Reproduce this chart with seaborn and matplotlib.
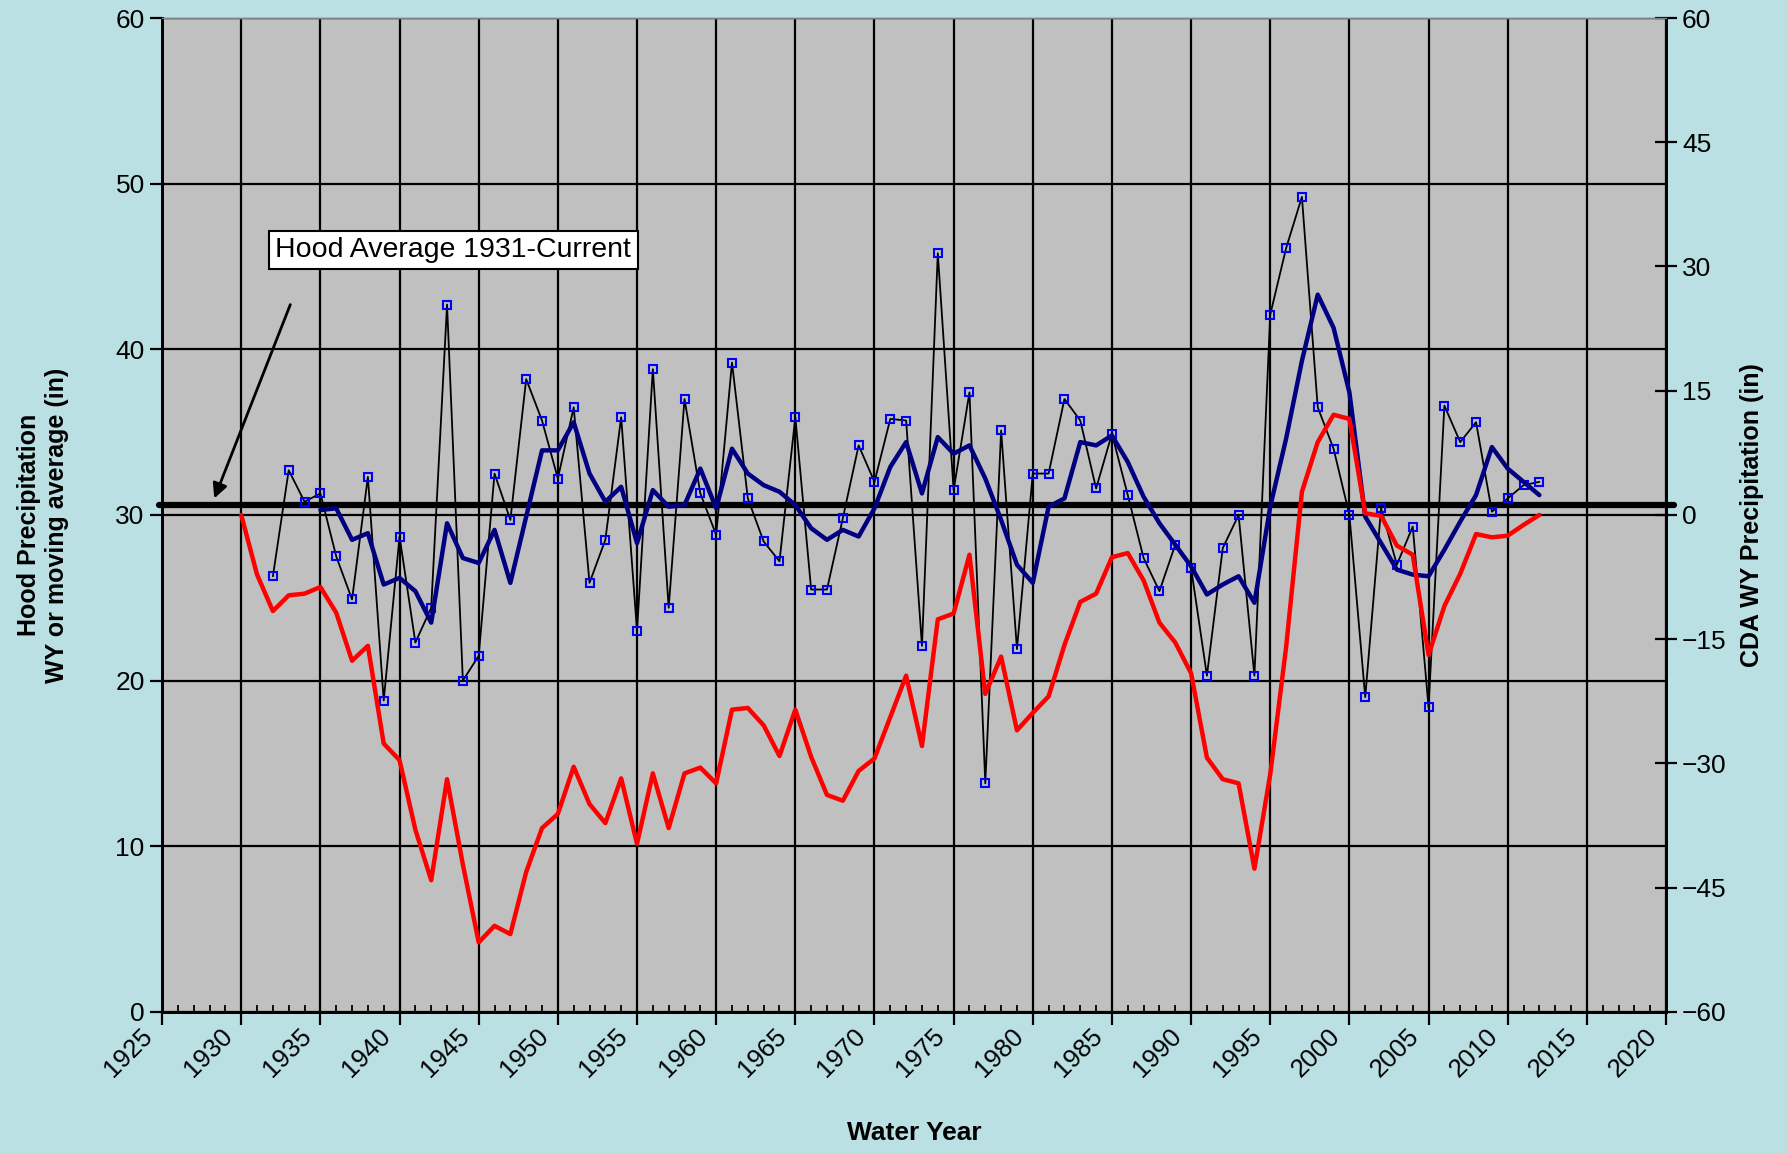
import matplotlib
matplotlib.use("Agg")
import matplotlib.pyplot as plt
from matplotlib.ticker import MultipleLocator
from matplotlib.transforms import ScaledTranslation
import seaborn as sns

# Hood water-year precipitation (in)
years_wy = list(range(1932, 2013))
hood_wy = [26.3, 32.7, 30.8, 31.3, 27.5, 24.9, 32.3, 18.8, 28.7, 22.3,
           24.4, 42.7, 20.0, 21.5, 32.5, 29.7, 38.2, 35.7, 32.2, 36.5,
           25.9, 28.5, 35.9, 23.0, 38.8, 24.4, 37.0, 31.3, 28.8, 39.2,
           31.0, 28.4, 27.2, 35.9, 25.5, 25.5, 29.8, 34.2, 32.0, 35.8,
           35.7, 22.1, 45.8, 31.5, 37.4, 13.8, 35.1, 21.9, 32.5, 32.5,
           37.0, 35.7, 31.6, 34.9, 31.2, 27.4, 25.4, 28.2, 26.8, 20.3,
           28.0, 30.0, 20.3, 42.1, 46.1, 49.2, 36.5, 34.0, 30.0, 19.0,
           30.4, 27.0, 29.3, 18.4, 36.6, 34.4, 35.6, 30.2, 31.0, 31.8,
           32.0]

# moving average
years_ma = list(range(1935, 2013))
hood_ma = [30.3, 30.4, 28.5, 28.9, 25.8, 26.2, 25.4, 23.5, 29.5, 27.4,
           27.1, 29.1, 25.9, 29.9, 33.9, 33.9, 35.6, 32.5, 30.8, 31.7,
           28.3, 31.5, 30.5, 30.6, 32.8, 30.4, 34.0, 32.5, 31.8, 31.4,
           30.6, 29.2, 28.5, 29.1, 28.7, 30.4, 32.9, 34.4, 31.3, 34.7,
           33.7, 34.2, 32.2, 29.7, 27.0, 25.9, 30.5, 31.0, 34.4, 34.2,
           34.8, 33.2, 31.1, 29.5, 28.2, 26.9, 25.2, 25.8, 26.3, 24.7,
           30.5, 34.6, 39.3, 43.3, 41.3, 37.4, 29.9, 28.3, 26.7, 26.4,
           26.3, 27.9, 29.6, 31.2, 34.1, 32.8, 32.0, 31.2]

# CDA WY precipitation (right axis)
years_cda = list(range(1930, 2013))
cda_wy = [0.0, -7.2, -11.6, -9.7, -9.5, -8.7, -11.8, -17.6, -15.8, -27.6,
          -29.6, -38.0, -44.1, -31.9, -42.2, -51.6, -49.6, -50.6, -43.1, -37.8,
          -36.1, -30.4, -34.9, -37.2, -31.8, -39.7, -31.2, -37.8, -31.2, -30.5,
          -32.4, -23.5, -23.3, -25.4, -29.1, -23.5, -29.2, -33.8, -34.5, -30.9,
          -29.4, -24.4, -19.4, -27.9, -12.6, -11.9, -4.8, -21.6, -17.1, -26.0,
          -23.9, -21.9, -15.7, -10.5, -9.5, -5.1, -4.6, -7.9, -13.0, -15.4,
          -19.1, -29.3, -31.9, -32.4, -42.7, -31.3, -16.0, 2.8, 8.8, 12.1,
          11.6, 0.2, -0.1, -3.7, -4.8, -16.9, -11.0, -7.1, -2.3, -2.7,
          -2.5, -1.2, 0.0]

hood_avg = 30.6

sns.set_style("ticks", {"axes.facecolor": "#C0C0C0",
                        "figure.facecolor": "#BBE0E3",
                        "axes.edgecolor": "black",
                        "text.color": "black",
                        "axes.labelcolor": "black",
                        "xtick.color": "black",
                        "ytick.color": "black"})
plt.rcParams['font.family'] = ['Liberation Sans', 'DejaVu Sans']

fig = plt.figure(figsize=(17.87, 11.54), dpi=100)
ax = fig.add_axes([0.0907, 0.1231, 0.8416, 0.8613])
ax2 = ax.twinx()

ax.set_axisbelow(True)
ax.grid(True, which='major', color='black', lw=1.6)

# average line runs slightly past the frame, as in the original
ax.axhline(hood_avg, xmin=-0.002, xmax=1.005, color='black', lw=4.5,
           zorder=3, clip_on=False)

sns.lineplot(x=years_wy, y=hood_wy, ax=ax, color='black', lw=1.3,
             marker='s', markersize=6, markerfacecolor='none',
             markeredgecolor='#0000FF', markeredgewidth=1.5, zorder=4)
sns.lineplot(x=years_ma, y=hood_ma, ax=ax, color='#000080', lw=3.2, zorder=5)
sns.lineplot(x=years_cda, y=cda_wy, ax=ax2, color='#FF0000', lw=3.2)

ax.set_xlim(1925, 2020)
ax.set_ylim(0, 60)
ax2.set_ylim(-60, 60)
ax.xaxis.set_major_locator(MultipleLocator(5))
ax.xaxis.set_minor_locator(MultipleLocator(1))
ax.yaxis.set_major_locator(MultipleLocator(10))
ax2.yaxis.set_major_locator(MultipleLocator(15))
ax2.grid(False)

ax.tick_params(axis='x', which='major', direction='out', length=9, width=1.6,
               labelsize=18.5, pad=6)
ax.tick_params(axis='x', which='minor', direction='in', length=5, width=1.3)
ax.tick_params(axis='y', direction='out', length=9, width=1.6, labelsize=19)
ax2.tick_params(axis='y', direction='inout', length=16, width=1.6, labelsize=19)
shift = ScaledTranslation(-0.13, 0, fig.dpi_scale_trans)
for lab in ax.get_xticklabels():
    lab.set_rotation(45)
    lab.set_ha('right')
    lab.set_va('center')
    lab.set_rotation_mode('anchor')
    lab.set_transform(lab.get_transform() + shift)

for a in (ax, ax2):
    for s in ('left', 'right', 'bottom'):
        a.spines[s].set_linewidth(2)
        a.spines[s].set_color('black')
    a.spines['top'].set_color('#808080')
    a.spines['top'].set_linewidth(1)

ax.set_xlabel("Water Year", fontsize=19, fontweight='bold')
ax.xaxis.set_label_coords(0.5, -0.11)
ax.set_ylabel("Hood Precipitation\nWY or moving average (in)", fontsize=18,
              fontweight='bold')
ax.yaxis.set_label_coords(-0.062, 0.49)
ax2.set_ylabel("CDA WY Precipitation (in)", fontsize=18, fontweight='bold')
ax2.yaxis.set_label_coords(1.049, 0.5)

ax.text(1943.4, 46.0, "Hood Average 1931-Current", fontsize=20.5,
        ha='center', va='center', zorder=6,
        bbox=dict(boxstyle='square,pad=0.22', facecolor='white',
                  edgecolor='black', lw=1.5))
ax.annotate("", xy=(1928.3, 31.0), xytext=(1933.1, 42.7),
            arrowprops=dict(arrowstyle='-|>', color='black', lw=2,
                            mutation_scale=22, shrinkA=0, shrinkB=0),
            zorder=6)

fig.savefig("out.png", dpi=100, facecolor=fig.get_facecolor())
